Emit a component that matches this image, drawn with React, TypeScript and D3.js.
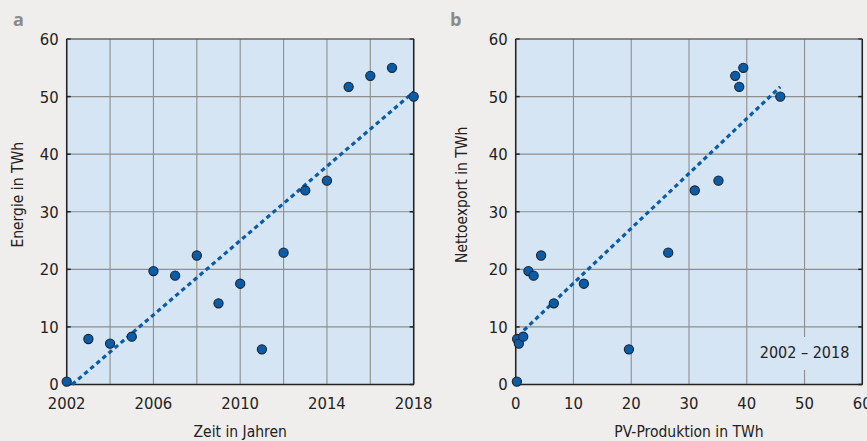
import React from "react";
import * as d3 from "d3";

const years = [2002, 2003, 2004, 2005, 2006, 2007, 2008, 2009, 2010, 2011, 2012, 2013, 2014, 2015, 2016, 2017, 2018];
const exportTWh = [0.5, 7.9, 7.1, 8.3, 19.7, 18.9, 22.4, 14.1, 17.5, 6.1, 22.9, 33.7, 35.4, 51.7, 53.6, 55.0, 50.0];
const pvTWh = [0.2, 0.25, 0.55, 1.3, 2.2, 3.1, 4.4, 6.6, 11.8, 19.6, 26.4, 31.0, 35.1, 38.7, 38.0, 39.4, 45.8];

const trendA = [[2002.25, 0], [2018, 50.8]];
const trendB = [[1.4, 9.4], [45.8, 51.7]];

const yTicks = [0, 10, 20, 30, 40, 50, 60];
const xTicksA = [2002, 2004, 2006, 2008, 2010, 2012, 2014, 2016, 2018];
const xTickLabelsA = [2002, 2006, 2010, 2014, 2018];
const xTicksB = [0, 10, 20, 30, 40, 50, 60];

const FONT = "'DejaVu Sans Condensed', 'Liberation Sans Narrow', 'Roboto', sans-serif";
const BG = "#efeeec";
const PLOT_BG = "#d5e5f4";
const GRID = "#8e8e8e";
const DOT = "#0b5ca6";
const LINE = "#0b5ca6";
const TEXT = "#222";

const top = 39;
const bottom = 384.5;

type PanelProps = {
  x0: number;
  x1: number;
  xDomain: [number, number];
  xGrid: number[];
  xLabels: number[];
  xs: number[];
  ys: number[];
  trend: number[][];
  yTitle: string;
  yTitleX: number;
  xTitle: string;
  letter: string;
  letterX: number;
  legend?: string;
};

function Panel(p: PanelProps) {
  const x = d3.scaleLinear().domain(p.xDomain).range([p.x0, p.x1]);
  const y = d3.scaleLinear().domain([0, 60]).range([bottom, top]);
  const line = d3.line<number[]>().x((d) => x(d[0])).y((d) => y(d[1]));
  const pts = p.xs.map((v, i) => [v, p.ys[i]]);
  const legendCx = x(50);
  const legendCy = 352;
  return (
    <g>
      <rect x={p.x0} y={top} width={p.x1 - p.x0} height={bottom - top} fill={PLOT_BG} />
      {p.xGrid.map((t) => (
        <line key={"gx" + t} x1={x(t)} x2={x(t)} y1={top} y2={bottom} stroke={GRID} strokeWidth={1.1} />
      ))}
      {yTicks.map((t) => (
        <line key={"gy" + t} x1={p.x0} x2={p.x1} y1={y(t)} y2={y(t)} stroke={GRID} strokeWidth={1.1} />
      ))}
      {p.legend && (
        <rect x={legendCx - 45} y={legendCy - 15} width={90} height={33} fill={PLOT_BG} />
      )}
      {yTicks.map((t) => (
        <g key={"tk" + t}>
          <line x1={p.x0} x2={p.x0 + 4} y1={y(t)} y2={y(t)} stroke="#222" strokeWidth={1.5} />
          <line x1={p.x1 - 4} x2={p.x1} y1={y(t)} y2={y(t)} stroke="#222" strokeWidth={1.5} />
        </g>
      ))}
      <line x1={p.x0} x2={p.x1} y1={top} y2={top} stroke="#555" strokeWidth={1.2} />
      <line x1={p.x0} x2={p.x0} y1={top} y2={bottom} stroke="#222" strokeWidth={1.5} />
      <line x1={p.x1} x2={p.x1} y1={top} y2={bottom} stroke="#222" strokeWidth={1.5} />
      <line x1={p.x0} x2={p.x1} y1={bottom} y2={bottom} stroke="#222" strokeWidth={1.5} />
      <path d={line(p.trend) || ""} fill="none" stroke={LINE} strokeWidth={3.2} strokeDasharray="4.5 3.5" />
      {pts.map((d, i) => (
        <circle key={"pt" + i} cx={x(d[0])} cy={y(d[1])} r={4.6} fill={DOT} stroke="#1a2230" strokeWidth={1.1} />
      ))}
      {yTicks.map((t) => (
        <text key={"yl" + t} x={p.x0 - 8} y={y(t)} dy="0.36em" textAnchor="end" fontSize={16.5} fill={TEXT} fontFamily={FONT}>
          {t}
        </text>
      ))}
      {p.xLabels.map((t) => (
        <text key={"xl" + t} x={x(t)} y={409} textAnchor="middle" fontSize={16.5} fill={TEXT} fontFamily={FONT}>
          {t}
        </text>
      ))}
      <text x={(p.x0 + p.x1) / 2} y={437} textAnchor="middle" fontSize={15.5} fill={TEXT} fontFamily={FONT}>
        {p.xTitle}
      </text>
      <text
        transform={`translate(${p.yTitleX},${(top + bottom) / 2 - 17}) rotate(-90)`}
        textAnchor="middle"
        dy="0.36em"
        fontSize={15.5}
        fill={TEXT}
        fontFamily={FONT}
      >
        {p.yTitle}
      </text>
      <text x={p.letterX} y={26} fontSize={18} fontWeight="bold" fill="#8a8a8a" fontFamily="'Open Sans', 'DejaVu Sans', sans-serif">
        {p.letter}
      </text>
      {p.legend && (
        <text x={legendCx} y={legendCy} dy="0.36em" textAnchor="middle" fontSize={16} fill={TEXT} fontFamily={FONT}>
          {p.legend}
        </text>
      )}
    </g>
  );
}

export default function App() {
  return (
    <svg width={867} height={441} style={{ position: "absolute", left: 0, top: 0 }}>
      <rect width={867} height={441} fill={BG} />
      <Panel
        x0={66.7}
        x1={413.7}
        xDomain={[2002, 2018]}
        xGrid={xTicksA}
        xLabels={xTickLabelsA}
        xs={years}
        ys={exportTWh}
        trend={trendA}
        yTitle="Energie in TWh"
        yTitleX={17}
        xTitle="Zeit in Jahren"
        letter="a"
        letterX={13}
      />
      <Panel
        x0={515.7}
        x1={862.3}
        xDomain={[0, 60]}
        xGrid={xTicksB}
        xLabels={xTicksB}
        xs={pvTWh}
        ys={exportTWh}
        trend={trendB}
        yTitle="Nettoexport in TWh"
        yTitleX={461.5}
        xTitle="PV-Produktion in TWh"
        letter="b"
        letterX={450}
        legend="2002 – 2018"
      />
    </svg>
  );
}
